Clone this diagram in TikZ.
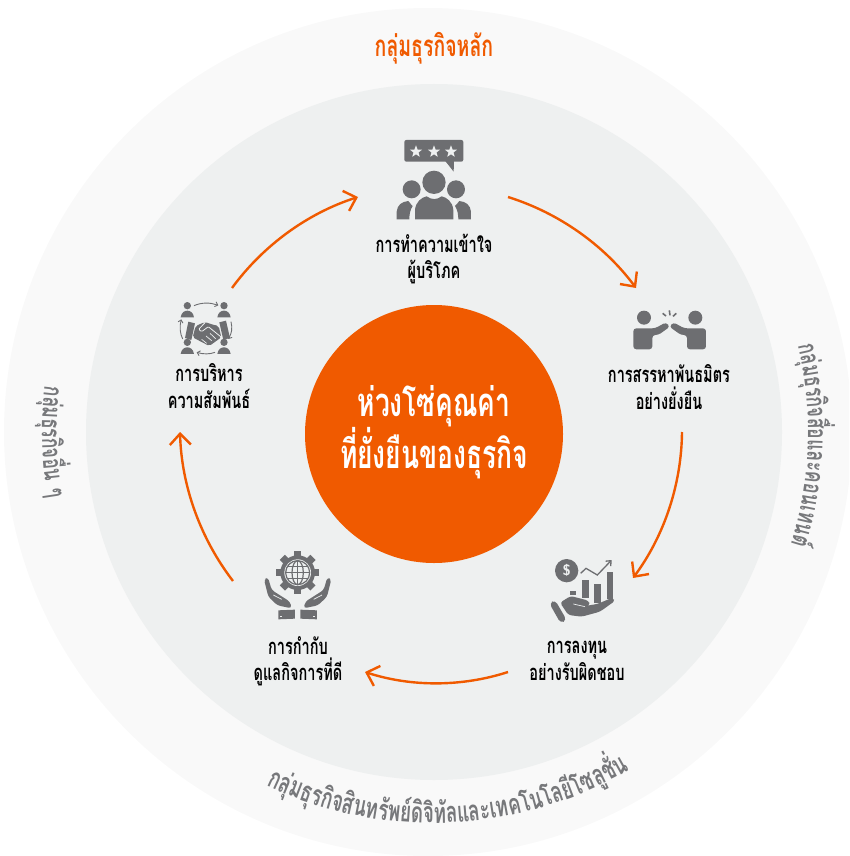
\documentclass[tikz,border=0pt]{standalone}
\usepackage{fontspec}
\usetikzlibrary{arrows.meta}
\newfontfamily\thaibold[Script=Thai,FakeStretch=0.66,BoldFont={Loma Bold}]{Loma}
\definecolor{outerc}{HTML}{F9F9F9}
\definecolor{innerc}{HTML}{EEF0F0}
\definecolor{orangec}{HTML}{F05A00}
\definecolor{iconc}{HTML}{6D6E71}
\definecolor{ringtxt}{HTML}{77787B}
\newlength\cvw
\newlength\cvtotal
\newsavebox\cvbox
\newcommand\CurveText[5]{% radius, centre angle, mode(+1 ccw, tops inward; -1 cw, tops outward), font+colour, clusters
  \global\cvtotal=0pt
  \foreach \cl in {#5}{\sbox\cvbox{\pgfinterruptpicture#4\cl\endpgfinterruptpicture}\global\advance\cvtotal by \wd\cvbox}
  \pgfmathsetmacro\cvtot{\cvtotal/1pt}
  \gdef\cvpos{0}
  \foreach \cl in {#5}{
    \sbox\cvbox{\pgfinterruptpicture#4\cl\endpgfinterruptpicture}
    \cvw=\wd\cvbox
    \pgfmathsetmacro\cvcur{\cvw/1pt}
    \pgfmathsetmacro\cvang{#2+#3*(\cvpos+\cvcur/2-\cvtot/2)/#1*57.29578}
    \pgfmathsetmacro\cvrot{\cvang+#3*90}
    \node[inner sep=0pt,anchor=base,rotate=\cvrot] at ({433+#1*cos(\cvang)},{432-#1*sin(\cvang)}) {#4\cl};
    \pgfmathsetmacro\cvnew{\cvpos+\cvcur}
    \global\let\cvpos\cvnew
  }
}
\tikzset{
  steplabel/.style={align=center,inner sep=0pt,font=\thaibold\bfseries\fontsize{22}{26.5}\selectfont,text=black},
  flow/.style={draw=orangec,line width=2.4pt,-{Straight Barb[length=11pt,width=21pt,line width=2.4pt]},bend left=18,looseness=.87},
  icon/.style={fill=iconc,draw=none},
  iconline/.style={draw=iconc,fill=none},
  cut/.style={draw=innerc,fill=none},
}
\begin{document}
\begin{tikzpicture}[x=1pt,y=-1pt]
\useasboundingbox (0,0) rectangle (849,856);
\clip (0,0) rectangle (849,856);
\fill[outerc] (428,432) circle[radius=424];
\fill[innerc] (434,432) circle[radius=348];
\node[circle,fill=orangec,minimum size=258pt,inner sep=0pt] (core) at (434,434) {};
\node[align=center,inner sep=0pt,text=white,font=\thaibold\bfseries\fontsize{40}{49}\selectfont] (coretext) at (434,432) {ห่วงโซ่คุณค่า\\ที่ยั่งยืนของธุรกิจ};

\node[inner sep=0pt,text=orangec,font=\thaibold\bfseries\fontsize{29.5}{32}\selectfont] (maingroup) at (434,48) {กลุ่มธุรกิจหลัก};
\CurveText{391}{-87.5}{1}{\thaibold\bfseries\fontsize{28.6}{30}\selectfont\color{ringtxt}}{ก,ลุ่,ม,ธุ,ร,กิ,จ,สิ,น,ท,รั,พ,ย์,ดิ,จิ,ทั,ล,แ,ล,ะ,เ,ท,ค,โ,น,โ,ล,ยี,โ,ซ,ลู,ชั่,น}
\CurveText{375}{-2}{-1}{\thaibold\bfseries\fontsize{26.5}{28}\selectfont\color{ringtxt}}{ก,ลุ่,ม,ธุ,ร,กิ,จ,สื่,อ,แ,ล,ะ,ค,อ,น,เ,ท,น,ต์}
\CurveText{391}{181.5}{1}{\thaibold\bfseries\fontsize{26.5}{28}\selectfont\color{ringtxt}}{ก,ลุ่,ม,ธุ,ร,กิ,จ,อื่,น,{\hspace{.3em}ๆ}}

\node[steplabel] (l1) at (434,259) {การทำความเข้าใจ\\ผู้บริโภค};
\node[steplabel] (l2) at (669,387) {การสรรหาพันธมิตร\\อย่างยั่งยืน};
\node[steplabel] (l3) at (577,661) {การลงทุน\\อย่างรับผิดชอบ};
\node[steplabel] (l4) at (298,661) {การกำกับ\\ดูแลกิจการที่ดี};
\node[steplabel] (l5) at (209,386) {การบริหาร\\ความสัมพันธ์};

\coordinate (a1s) at (232,288); \coordinate (a1e) at (358,197);
\coordinate (a2s) at (508,197); \coordinate (a2e) at (636,288);
\coordinate (a3s) at (682,432); \coordinate (a3e) at (633,578);
\coordinate (a4s) at (508,672); \coordinate (a4e) at (365,672);
\coordinate (a5s) at (233,581); \coordinate (a5e) at (180,432);
\draw[flow] (a1s) to (a1e);
\draw[flow] (a2s) to (a2e);
\draw[flow] (a3s) to (a3e);
\draw[flow] (a4s) to (a4e);
\draw[flow] (a5s) to (a5e);

% icon 1
\begin{scope}[shift={(360,120)},x=.3333pt,y=-.3333pt]
\fill[icon,rounded corners=2pt] (133,60) rectangle (310,125);
\fill[icon] (255,122) -- (282,122) -- (281,155) -- cycle;
\foreach \sx in {168,222,273}{
 \fill[innerc] plot[samples at={0,...,9}] ({\sx+(mod(\x,2)==0 ? 19 : 8)*sin(36*\x)},{95-(mod(\x,2)==0 ? 19 : 8)*cos(36*\x)}) -- cycle;
}
\fill[icon] (222,187) circle[radius=35];
\fill[icon] (155,208) circle[radius=27];
\fill[icon] (288,208) circle[radius=27];
\fill[icon] (110,298) -- (110,275) .. controls (112,255) and (125,245) .. (145,243) .. controls (150,250) and (155,255) .. (158,258) .. controls (150,270) and (148,285) .. (148,298) -- cycle;
\fill[icon] (333,298) -- (333,275) .. controls (331,255) and (318,245) .. (298,243) .. controls (293,250) and (288,255) .. (285,258) .. controls (293,270) and (295,285) .. (295,298) -- cycle;
\fill[icon] (165,298) -- (165,270) .. controls (167,245) and (185,232) .. (200,229) .. controls (215,240) and (230,240) .. (245,229) .. controls (260,232) and (278,245) .. (280,270) -- (280,298) -- cycle;
\end{scope}

% icon 2
\begin{scope}[shift={(590,290)},x=.3333pt,y=-.3333pt]
\fill[icon] (162,83) circle[radius=21];
\fill[icon] (316,83) circle[radius=21];
\fill[icon,rounded corners=3pt] (130,178) -- (130,115) -- (195,115) -- (228,97) -- (240,110) -- (205,135) -- (187,135) -- (187,178) -- cycle;
\fill[icon,rounded corners=3pt] (348,178) -- (348,115) -- (283,115) -- (250,97) -- (238,110) -- (273,135) -- (291,135) -- (291,178) -- cycle;
\draw[iconline,line width=1.6pt] (218,70) -- (228,78) (238,61) -- (240,76) (259,70) -- (249,79);
\end{scope}

% icon 3
\begin{scope}[shift={(510,540)},x=.3333pt,y=-.3333pt]
\fill[icon] (170,92) circle[radius=35];
\node[inner sep=0pt,text=innerc,font=\sffamily\bfseries\fontsize{15}{15}\selectfont] (dollar) at (170,92) {\$};
\draw[iconline,line width=1.3pt,-{Straight Barb[length=4pt,width=7pt]}] (212,100) -- (228,85) -- (262,105) -- (305,60);
\fill[icon] (217,120) rectangle (237,175);
\fill[icon] (252,133) rectangle (272,190);
\fill[icon] (290,95) rectangle (310,178);
\fill[icon] (180,152) rectangle (198,165);
\fill[icon,rounded corners=4pt] (118,190) -- (135,180) -- (170,240) -- (152,250) -- cycle;
\fill[icon,rounded corners=3pt] (150,188) -- (182,168) -- (236,182) -- (240,196) -- (212,200) -- (262,192) -- (305,174) -- (316,182) -- (270,215) -- (215,230) -- (175,225) -- cycle;
\draw[cut,line width=.7pt] (190,192) -- (225,200);
\end{scope}

% icon 4
\begin{scope}[shift={(240,540)},x=.3333pt,y=-.3333pt]
\foreach \ga in {0,45,...,315}{
 \fill[icon,rotate around={\ga:(173,98)}] (162,33) rectangle (184,60);
}
\fill[icon] (173,98) circle[radius=52];
\fill[innerc] (173,98) circle[radius=40];
\draw[iconline,line width=1.2pt] (173,98) circle[radius=36];
\draw[iconline,line width=1.2pt] (173,98) ellipse[x radius=17,y radius=36];
\draw[iconline,line width=1.2pt] (173,62) -- (173,134) (137,98) -- (209,98) (142,80) -- (204,80) (142,116) -- (204,116);
\fill[icon,rounded corners=3pt] (72,118) -- (84,112) -- (95,150) -- (150,185) -- (155,205) -- (112,196) -- (85,170) -- cycle;
\fill[icon,rounded corners=3pt] (274,118) -- (262,112) -- (251,150) -- (196,185) -- (191,205) -- (234,196) -- (261,170) -- cycle;
\draw[cut,line width=.7pt] (100,165) -- (125,178) (246,165) -- (221,178);
\fill[icon] (115,211) -- (165,209) -- (165,236) -- (115,238) -- cycle;
\fill[icon] (231,211) -- (181,209) -- (181,236) -- (231,238) -- cycle;
\fill[innerc] (121,227) rectangle (126,232);
\fill[innerc] (220,227) rectangle (225,232);
\end{scope}

% icon 5
\begin{scope}[shift={(150,290)},x=.3333pt,y=-.3333pt]
\foreach \px/\py in {112/47,222/47,112/157,222/157}{
 \fill[icon] (\px,\py) circle[radius=11];
 \fill[icon] (\px-20,\py+35) .. controls (\px-18,\py+20) and (\px-8,\py+15) .. (\px,\py+15) .. controls (\px+8,\py+15) and (\px+18,\py+20) .. (\px+20,\py+35) -- cycle;
}
\tikzset{tinyarrow/.style={iconline,line width=.9pt,-{Straight Barb[length=2.6pt,width=5pt]}}}
\draw[tinyarrow] (132,47) .. controls (155,37) and (180,37) .. (205,46);
\draw[tinyarrow] (243,95) .. controls (248,115) and (245,130) .. (235,147);
\draw[tinyarrow] (195,187) .. controls (180,193) and (160,193) .. (140,187);
\draw[tinyarrow] (98,147) .. controls (90,130) and (88,110) .. (94,88);
\fill[icon] (115,95) -- (135,100) -- (124,150) -- (105,144) -- cycle;
\fill[icon] (208,97) -- (228,92) -- (240,144) -- (220,150) -- cycle;
\fill[icon,rounded corners=2pt] (137,108) -- (165,96) -- (185,103) -- (206,108) -- (214,142) -- (178,168) -- (128,142) -- cycle;
\draw[cut,line width=.8pt,rounded corners=1pt] (212,140) -- (175,110) -- (155,125) -- (146,118) -- (165,98);
\draw[cut,line width=.7pt] (170,160) -- (155,148) (185,152) -- (168,138) (197,146) -- (180,130);
\end{scope}
\end{tikzpicture}
\end{document}
